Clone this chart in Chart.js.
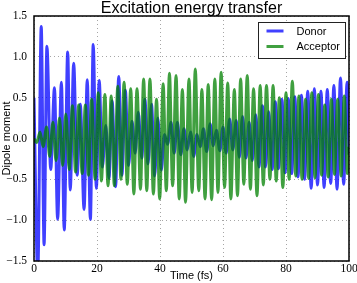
<!DOCTYPE html>
<html>
<head>
<meta charset="utf-8">
<script src="https://cdn.jsdelivr.net/npm/chart.js@4.4.1/dist/chart.umd.min.js"></script>
<style>
    html, body { margin: 0; padding: 0; background: #fff; }
    #wrap { width: 357px; height: 283px; }
</style>
</head>
<body>
<div id="wrap"><canvas id="myChart"></canvas></div>
<script>
// extrema (time in fs, dipole moment)
const donorT = [0, 1.2, 2.3, 3.2, 4.1, 5.3, 6.5, 7.5, 8.7, 9.6, 10.7, 11.5, 12.6, 13.7, 14.7, 15.9, 16.9, 17.9, 18.8, 19.8,
    20.7, 21.7, 22.8, 23.8, 24.8, 25.9, 26.9, 27.9, 29.0, 30.0, 31.1, 32.1, 33.1, 34.2, 35.2, 36.2, 37.3, 38.3, 39.3, 40.4,
    41.4, 42.4, 43.5, 44.5, 45.5, 46.6, 47.6, 48.6, 49.7, 50.7, 51.7, 52.8, 53.8, 54.8, 55.9, 56.9, 57.9, 59.0, 60.0, 61.0,
    62.1, 63.1, 64.2, 65.2, 66.2, 67.3, 68.3, 69.3, 70.4, 71.4, 72.5, 73.5, 74.5, 75.6, 76.6, 77.6, 78.7, 79.7, 80.7, 81.8,
    82.8, 83.8, 84.9, 85.9, 86.9, 88.0, 89.0, 90.0, 91.1, 92.1, 93.1, 94.2, 95.2, 96.2, 97.3, 98.3, 99.4, 100];
const donorY = [0.50, -1.65, 1.37, -1.30, 1.13, -0.38, 0.62, -0.99, 0.69, -1.12, 1.06, -0.63, 0.92, -0.45, 0.42, -0.87, 0.72, -0.99, 1.15, -0.61,
    0.71, -0.35, 0.16, -0.49, 0.46, -0.59, 0.76, -0.45, 0.59, -0.33, 0.21, -0.18, 0.32, -0.24, 0.48, -0.31, 0.42, -0.46, 0.25, -0.39,
    0.05, -0.07, 0.20, -0.18, 0.20, -0.20, 0.12, -0.14, 0.08, -0.22, 0.05, -0.10, 0.12, -0.16, 0.18, -0.09, 0.10, -0.15, 0.14, -0.18,
    0.24, -0.14, 0.22, -0.23, 0.27, -0.24, 0.20, -0.27, 0.29, -0.35, 0.40, -0.35, 0.33, -0.38, 0.45, -0.37, 0.48, -0.42, 0.49, -0.43,
    0.51, -0.47, 0.53, -0.50, 0.58, -0.61, 0.61, -0.57, 0.58, -0.60, 0.60, -0.55, 0.65, -0.62, 0.74, -0.56, 0.69, -0.20];

const acceptorT = [0, 0.9, 1.9, 2.9, 4.0, 5.0, 6.0, 7.0, 8.1, 9.1, 10.1, 11.2, 12.2, 13.2, 14.2, 15.3, 16.3, 17.3, 18.3, 19.4,
    20.4, 21.4, 22.5, 23.5, 24.5, 25.5, 26.6, 27.6, 28.6, 29.6, 30.7, 31.7, 32.7, 33.8, 34.8, 35.8, 36.8, 37.9, 38.9, 39.9,
    41.0, 42.0, 43.0, 44.0, 45.1, 46.1, 47.1, 48.1, 49.2, 50.2, 51.2, 52.3, 53.3, 54.3, 55.3, 56.4, 57.4, 58.4, 59.4, 60.5,
    61.5, 62.5, 63.6, 64.6, 65.6, 66.6, 67.7, 68.7, 69.7, 70.8, 71.8, 72.8, 73.8, 74.9, 75.9, 76.9, 77.9, 79.0, 80.0, 81.0,
    82.0, 83.1, 84.1, 85.1, 86.2, 87.2, 88.2, 89.2, 90.3, 91.3, 92.3, 93.4, 94.4, 95.4, 96.4, 97.5, 98.5, 99.5, 100];
const acceptorY = [0, -0.05, 0.08, -0.10, 0.14, -0.22, 0.20, -0.27, 0.25, -0.33, 0.30, -0.38, 0.40, -0.41, 0.41, -0.43, 0.41, -0.45, 0.48, -0.50,
    0.56, -0.52, 0.54, -0.58, 0.52, -0.58, 0.64, -0.50, 0.69, -0.56, 0.61, -0.68, 0.61, -0.62, 0.73, -0.64, 0.73, -0.68, 0.48, -0.74,
    0.67, -0.64, 0.80, -0.58, 0.77, -0.74, 0.60, -0.78, 0.73, -0.66, 0.85, -0.64, 0.60, -0.74, 0.66, -0.75, 0.73, -0.66, 0.81, -0.60,
    0.68, -0.74, 0.60, -0.70, 0.73, -0.56, 0.77, -0.62, 0.61, -0.70, 0.65, -0.57, 0.65, -0.50, 0.65, -0.52, 0.50, -0.60, 0.56, -0.50,
    0.70, -0.46, 0.52, -0.50, 0.48, -0.49, 0.56, -0.48, 0.54, -0.45, 0.41, -0.47, 0.48, -0.44, 0.48, -0.46, 0.52, -0.43, -0.10];

const xTicks = [0, 20, 40, 60, 80, 100];
const yTicks = [-1.5, -1.0, -0.5, 0.0, 0.5, 1.0, 1.5];
const yTickLabels = ['\u22121.5', '\u22121.0', '\u22120.5', '0.0', '0.5', '1.0', '1.5'];
const titleText = 'Excitation energy transfer';

const toPoints = (xs, ys) => xs.map((x, i) => ({ x: x, y: ys[i] }));

// title centred over the axes (not the whole canvas), plus the black frame
const framePlugin = {
    id: 'frame',
    afterDatasetsDraw(chart) {
        const a = chart.chartArea;
        const c = chart.ctx;
        c.save();
        c.strokeStyle = '#000';
        c.lineWidth = 1.5;
        c.strokeRect(a.left, a.top, a.right - a.left, a.bottom - a.top);
        c.fillStyle = '#000';
        c.font = '16px "Liberation Sans", Arial, sans-serif';
        c.textAlign = 'center';
        c.textBaseline = 'alphabetic';
        c.fillText(titleText, (a.left + a.right) / 2, 13);
        c.restore();
    }
};

// matplotlib style legend box, upper right inside the axes
const legendBox = {
    id: 'legendBox',
    afterDraw(chart) {
        const a = chart.chartArea;
        const c = chart.ctx;
        const sets = chart.data.datasets;
        const w = 87, rowH = 15.5;
        const x0 = a.right - 3.5 - w, y0 = a.top + 6.5;
        c.save();
        c.fillStyle = '#fff';
        c.fillRect(x0, y0, w, 36);
        c.strokeStyle = '#222';
        c.lineWidth = 1;
        c.strokeRect(x0, y0, w, 36);
        c.font = '11px "Liberation Sans", Arial, sans-serif';
        c.textBaseline = 'middle';
        sets.forEach((ds, i) => {
            const y = y0 + 8.5 + i * rowH;
            c.strokeStyle = ds.borderColor;
            c.lineWidth = 3;
            c.beginPath();
            c.moveTo(x0 + 8, y);
            c.lineTo(x0 + 25, y);
            c.stroke();
            c.fillStyle = '#000';
            c.fillText(ds.label, x0 + 38, y + 0.5);
        });
        c.restore();
    }
};

const gridStyle = {
    color: 'rgba(0,0,0,0.35)',
    lineWidth: 1,
    drawTicks: false
};

const ctx = document.getElementById('myChart').getContext('2d');
const chart = new Chart(ctx, {
    type: 'line',
    data: {
        datasets: [{
            label: 'Donor',
            data: toPoints(donorT, donorY),
            borderColor: 'rgba(0,0,255,0.75)',
            borderWidth: 3,
            pointRadius: 0,
            cubicInterpolationMode: 'monotone',
            order: 2
        }, {
            label: 'Acceptor',
            data: toPoints(acceptorT, acceptorY),
            borderColor: 'rgba(0,128,0,0.75)',
            borderWidth: 3,
            pointRadius: 0,
            cubicInterpolationMode: 'monotone',
            order: 1
        }]
    },
    options: {
        responsive: true,
        maintainAspectRatio: false,
        animation: false,
        layout: { padding: { left: 0, right: 8, top: 16, bottom: 0 } },
        plugins: {
            legend: { display: false },
            tooltip: { enabled: false },
            title: { display: false }
        },
        scales: {
            x: {
                type: 'linear',
                min: 0,
                max: 100,
                afterBuildTicks: (scale) => { scale.ticks = xTicks.map(v => ({ value: v })); },
                afterFit: (scale) => {
                    scale.height = 22;
                    scale.paddingLeft = 0;
                    scale.paddingRight = 0;
                },
                grid: gridStyle,
                border: { display: false, dash: [1, 3] },
                ticks: {
                    color: '#000',
                    padding: 1,
                    maxRotation: 0,
                    font: { family: '"Liberation Serif", "Times New Roman", serif', size: 11.5 }
                },
                title: {
                    display: true,
                    text: 'Time (fs)',
                    color: '#000',
                    padding: 0,
                    font: { family: '"Liberation Sans", Arial, sans-serif', size: 11 }
                }
            },
            y: {
                min: -1.5,
                max: 1.5,
                afterBuildTicks: (scale) => { scale.ticks = yTicks.map(v => ({ value: v })); },
                afterFit: (scale) => {
                    scale.width = 34;
                    scale.paddingTop = 0;
                    scale.paddingBottom = 0;
                },
                grid: gridStyle,
                border: { display: false, dash: [1, 3] },
                ticks: {
                    color: '#000',
                    padding: 7,
                    callback: (v) => yTickLabels[yTicks.indexOf(v)],
                    font: { family: '"Liberation Serif", "Times New Roman", serif', size: 11.5 }
                },
                title: {
                    display: true,
                    text: 'Dipole moment',
                    color: '#000',
                    padding: 0,
                    font: { family: '"Liberation Sans", Arial, sans-serif', size: 11 }
                }
            }
        }
    },
    plugins: [framePlugin, legendBox]
});
</script>
</body>
</html>
